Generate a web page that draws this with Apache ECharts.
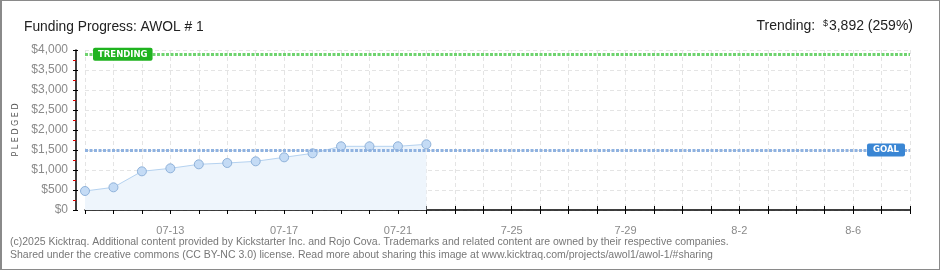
<!DOCTYPE html>
<html><head><meta charset="utf-8">
<script src="https://cdn.jsdelivr.net/npm/echarts@6/dist/echarts.min.js"></script>
<style>
html,body{margin:0;padding:0;background:#fff;}
#wrap{position:relative;width:940px;height:270px;}
#c{width:940px;height:270px;}
#frame{position:absolute;left:0;top:0;width:940px;height:270px;box-sizing:border-box;border:1px solid #8a8a8a;border-left-width:2px;pointer-events:none;}
</style></head>
<body>
<div id="wrap"><div id="c"></div><div id="frame"></div></div>
<script>
const days = ['07-10','07-11','07-12','07-13','07-14','07-15','07-16','07-17','07-18','07-19','07-20','07-21','07-22','07-23','07-24','07-25','07-26','07-27','07-28','07-29','07-30','07-31','08-01','08-02','08-03','08-04','08-05','08-06','08-07','08-08'];
const tickLabels = ['','','','07-13','','','','07-17','','','','07-21','','','','7-25','','','','7-29','','','','8-2','','','','8-6','',''];
const pledged = [475, 567, 967, 1042, 1142, 1175, 1217, 1317, 1417, 1592, 1592, 1592, 1642];
const goal = 1500;
const trending = 3892;
const yTicks = [0, 4000, 500];
const titleText = 'Funding Progress: AWOL # 1';
const footer1 = '(c)2025 Kicktraq. Additional content provided by Kickstarter Inc. and Rojo Cova. Trademarks and related content are owned by their respective companies.';
const footer2 = 'Shared under the creative commons (CC BY-NC 3.0) license. Read more about sharing this image at www.kicktraq.com/projects/awol1/awol-1/#sharing';

const FONT = 'Liberation Sans, sans-serif';
const chart = echarts.init(document.getElementById('c'), null, {renderer:'canvas'});
const money = v => '$' + v.toLocaleString('en-US');
const xBase = {
  type:'category', data: days, boundaryGap:false, position:'bottom', offset:10
};
chart.setOption({
  animation:false,
  backgroundColor:'#fff',
  title:[
    {text:titleText, left:19, top:15, textStyle:{fontFamily:FONT, fontSize:13.8, fontWeight:'normal', color:'#222'}},
    {text:'{a|Trending:  }{s|$}{a|' + trending.toLocaleString('en-US') + ' (259%)}', right:22, top:14,
     textStyle:{rich:{a:{fontFamily:FONT, fontSize:14, fontWeight:'normal', color:'#222'}, s:{fontFamily:FONT, fontSize:9, fontWeight:'normal', color:'#222', verticalAlign:'top', padding:[0,1,6,0]}}}}
  ],
  grid:{left:85, right:30, top:50, bottom:60},
  xAxis:[
    Object.assign({}, xBase, {
      axisLine:{show:true, lineStyle:{color:'#000', width:1.5}},
      axisTick:{show:true, interval:0, length:4, lineStyle:{color:'#000'}},
      axisLabel:{interval:0, margin:5, color:'#8a8a8a', fontFamily:FONT, fontSize:11, formatter:(v,i)=>tickLabels[i]},
      splitLine:{show:true, interval:0, lineStyle:{color:'#e4e4e4', type:[4,3]}}
    }),
    Object.assign({}, xBase, {
      axisLine:{show:false}, axisTick:{show:true, inside:true, interval:0, length:4, lineStyle:{color:'#000'}},
      axisLabel:{show:false}, splitLine:{show:false}
    })
  ],
  yAxis:[
    {type:'value', min:yTicks[0], max:yTicks[1], interval:yTicks[2], offset:9,
     name:'P L E D G E D', nameLocation:'middle', nameRotate:90, nameGap:52,
     nameTextStyle:{color:'#555', fontFamily:'DejaVu Sans', fontSize:8},
     axisLine:{show:true, lineStyle:{color:'#000', width:1.5}},
     axisTick:{show:true, length:3, lineStyle:{color:'#000'}},
     minorTick:{show:true, splitNumber:2, length:3, lineStyle:{color:'#e00000'}},
     axisLabel:{margin:8, color:'#8a8a8a', fontFamily:FONT, fontSize:12, formatter:money},
     splitLine:{show:true, lineStyle:{color:'#e4e4e4', type:[4,3]}}
    },
    {type:'value', min:yTicks[0], max:yTicks[1], interval:yTicks[2], offset:9, position:'left',
     axisLine:{show:false}, axisTick:{show:true, inside:true, length:2, lineStyle:{color:'#000'}},
     axisLabel:{show:false}, splitLine:{show:false}}
  ],
  series:[{
    type:'line', data:pledged, xAxisIndex:0, yAxisIndex:0,
    symbol:'circle', symbolSize:9,
    lineStyle:{color:'#b5d2f0', width:1},
    itemStyle:{color:'#c4dbf5', borderColor:'#8fb2da', borderWidth:1},
    areaStyle:{color:'#eef5fc', opacity:1},
    markLine:{
      silent:true, symbol:['none','none'], animation:false,
      data:[
        {yAxis:trending, lineStyle:{color:'#6fd36f', width:3, type:[3,1.5]},
         label:{show:true, formatter:'TRENDING', position:'insideStartTop', distance:[8,-6.5],
           backgroundColor:'#1fb31f', color:'#fff', fontFamily:'DejaVu Sans', fontSize:8.5, fontWeight:'bold', padding:[2,5,2,5], borderRadius:2}},
        {yAxis:goal, lineStyle:{color:'#8fb2e0', width:3, type:[3,1.5]},
         label:{show:true, formatter:'GOAL', position:'insideEndTop', distance:[5,-6.5],
           backgroundColor:'#3a86d4', color:'#fff', fontFamily:'DejaVu Sans', fontSize:8.5, fontWeight:'bold', padding:[2,6,2,6], borderRadius:2}}
      ]
    }
  }],
  graphic:[
    {type:'text', left:10, top:237, style:{text:footer1, fill:'#777', font:'10.5px ' + FONT}},
    {type:'text', left:10, top:250, style:{text:footer2, fill:'#777', font:'10.5px ' + FONT}}
  ]
});
</script>
</body></html>
